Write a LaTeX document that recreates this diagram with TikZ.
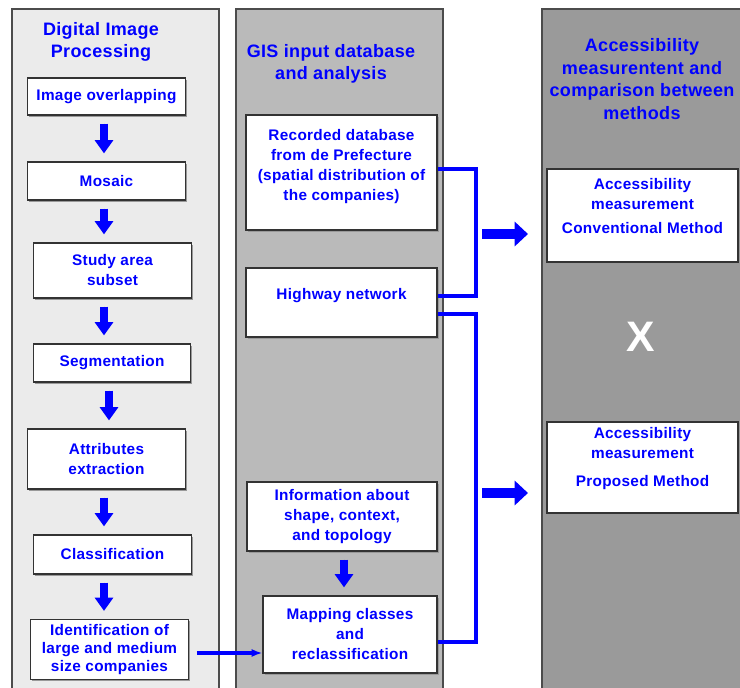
\documentclass[tikz,border=0pt]{standalone}
\usepackage{fontspec}
\setmainfont[LetterSpace=2]{Liberation Sans}
\usetikzlibrary{arrows.meta}
\usetikzlibrary{shadows}
\definecolor{txtblue}{RGB}{0,0,255}
\definecolor{panelA}{RGB}{235,235,235}
\definecolor{panelB}{RGB}{186,186,186}
\definecolor{panelC}{RGB}{154,154,154}

\tikzset{
  box/.style={draw=black!80, line width=0.9pt, fill=white, text=txtblue, align=center,
    font=\bfseries\fontsize{11.5}{15}\selectfont, inner sep=1pt,
    drop shadow={shadow xshift=1.2pt, shadow yshift=-1.2pt, fill=black!40, opacity=1}},
  panel/.style={draw=black!70, line width=0.8pt},
  ttl/.style={text=txtblue, align=center, font=\bfseries\fontsize{13.5}{16.5}\selectfont},
  dnarrow/.style={draw=txtblue, fill=txtblue, line width=6pt, -{Triangle[length=10pt, width=13.5pt]},
    shorten <=6pt, shorten >=6pt},
  bigarrow/.style={draw=txtblue, fill=txtblue, line width=7.5pt, -{Triangle[length=10pt, width=18pt]}},
  link/.style={draw=txtblue, line width=3pt, line join=miter}
}

\begin{document}
\begin{tikzpicture}[line cap=butt,x=0.75pt,y=-0.75pt]
\useasboundingbox (0,0) rectangle (740,688);
\clip (0,0) rectangle (740,688);
% panels
\filldraw[panel, fill=panelA] (12,9) rectangle (219,700);
\filldraw[panel, fill=panelB] (236,9) rectangle (443,700);
\filldraw[panel, fill=panelC] (542,9) rectangle (750,700);
%
\node[ttl] (ttlA) at (101,42) {Digital Image\\Processing};
\node[ttl] (ttlB) at (331,64) {GIS input database\\and analysis};
\node[ttl, font=\bfseries\fontsize{13.5}{17}\selectfont] (ttlC) at (642,79)
  {Accessibility\\measurentent and\\comparison between\\methods};
% digital image processing
\node[box, minimum width=118pt, minimum height=27.75pt] (ovl) at (106.5,96.5) {Image overlapping};
\node[box, minimum width=118pt, minimum height=28.5pt] (mos) at (106.5,181) {Mosaic};
\node[box, minimum width=118pt, minimum height=41.25pt] (sub) at (112.5,270.5) {Study area\\subset};
\node[box, minimum width=118pt, minimum height=28.5pt] (seg) at (112,363) {Segmentation};
\node[box, minimum width=118pt, minimum height=45pt] (attr) at (106.5,459) {Attributes\\extraction};
\node[box, minimum width=118pt, minimum height=29.25pt] (cls) at (112.5,554.5) {Classification};
\node[box, minimum width=118pt, minimum height=45pt, font=\bfseries\fontsize{11.5}{13.5}\selectfont]
  (idf) at (109.5,649.5) {Identification of\\large and medium\\size companies};
\draw[dnarrow] (104,0 |- ovl.south) -- (104,0 |- mos.north);
\draw[dnarrow] (104,0 |- mos.south) -- (104,0 |- sub.north);
\draw[dnarrow] (104,0 |- sub.south) -- (104,0 |- seg.north);
\draw[dnarrow] (109,0 |- seg.south) -- (109,0 |- attr.north);
\draw[dnarrow] (104,0 |- attr.south) -- (104,0 |- cls.north);
\draw[dnarrow] (104,0 |- cls.south) -- (104,0 |- idf.north);
% GIS input
\node[box, minimum width=143.25pt, minimum height=86.25pt] (rec) at (341.5,172.5)
  {Recorded database\\from de Prefecture\\(spatial distribution of\\the companies)\\[-4pt]};
\node[box, minimum width=143.25pt, minimum height=51.75pt] (hwy) at (341.5,302.5)
  {Highway network\\[-2pt]};
\node[box, minimum width=142.5pt, minimum height=51.75pt] (info) at (342,516.5)
  {Information about\\shape, context,\\and topology};
\node[box, minimum width=130.5pt, minimum height=57.75pt] (map) at (350,634.5)
  {Mapping classes\\and\\reclassification};
\draw[dnarrow] (344,0 |- info.south) -- (344,0 |- map.north);
\draw[link, -{Latex[length=8pt, width=6pt]}, line width=2.5pt, shorten <=6pt]
  (idf.east |- 0,653) -- (map.west |- 0,653);
% accessibility
\node[box, minimum width=143.25pt, minimum height=69.75pt] (conv) at (642.5,215.5)
  {Accessibility\\measurement\\[3pt]Conventional Method\\[-1pt]};
\node[box, minimum width=143.25pt, minimum height=68.25pt] (prop) at (642.5,467.5)
  {Accessibility\\measurement\\[6pt]Proposed Method\\[1pt]};
\node[white, font=\bfseries\fontsize{32}{32}\selectfont] (vs) at (641,337) {X};
% brackets
\draw[link] (rec.east |- 0,169) -- (476,169) -- (476,296) -- (hwy.east |- 0,296);
\draw[link] (hwy.east |- 0,314) -- (476,314) -- (476,642) -- (map.east |- 0,642);
\coordinate (a1) at (482,234);
\coordinate (a2) at (482,493);
\draw[bigarrow] (a1) -- ++(46,0) coordinate (a1e);
\draw[bigarrow] (a2) -- ++(46,0) coordinate (a2e);
\end{tikzpicture}
\end{document}
